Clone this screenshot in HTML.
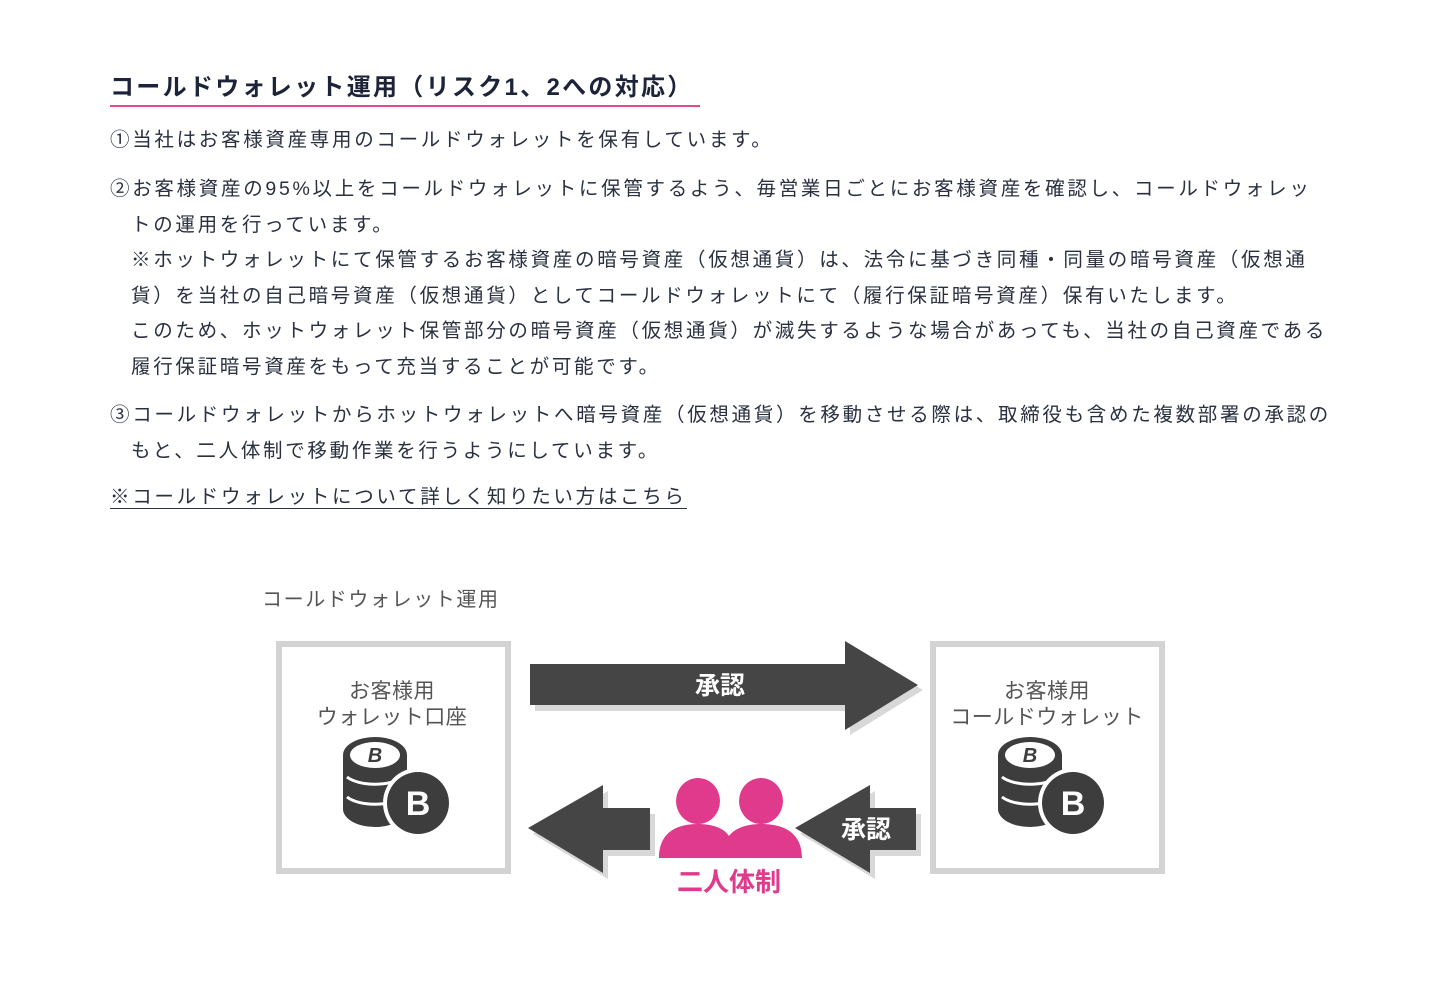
<!DOCTYPE html>
<html><head><meta charset="utf-8"><style>
body{margin:0;width:1439px;height:1006px;background:#fff;position:relative;overflow:hidden;font-family:"Liberation Sans","Noto Sans CJK JP",sans-serif;color:#222a3a}
.h{position:absolute;left:110px;top:67px;font-size:24px;font-weight:bold;letter-spacing:2.3px;color:#1d2338;white-space:nowrap}
.ul{position:absolute;left:110px;top:105px;width:590px;height:2px;background:#e04d8f}
.t{position:absolute;left:110px;font-size:19.5px;letter-spacing:2.7px;white-space:nowrap;line-height:35.5px;color:#2a3040}
.ind{padding-left:21px}
a{color:#2a3040;text-decoration:none;border-bottom:1.5px solid #2a3040}
svg{position:absolute;left:0;top:0}
</style></head><body>
<div class="h">コールドウォレット運用（リスク1、2への対応）</div>
<div class="ul"></div>
<div class="t" style="top:123px">①当社はお客様資産専用のコールドウォレットを保有しています。</div>
<div class="t" style="top:172px">②お客様資産の95%以上をコールドウォレットに保管するよう、毎営業日ごとにお客様資産を確認し、コールドウォレッ<br><span class="ind">トの運用を行っています。</span><br><span class="ind">※ホットウォレットにて保管するお客様資産の暗号資産（仮想通貨）は、法令に基づき同種・同量の暗号資産（仮想通</span><br><span class="ind">貨）を当社の自己暗号資産（仮想通貨）としてコールドウォレットにて（履行保証暗号資産）保有いたします。</span><br><span class="ind">このため、ホットウォレット保管部分の暗号資産（仮想通貨）が滅失するような場合があっても、当社の自己資産である</span><br><span class="ind">履行保証暗号資産をもって充当することが可能です。</span></div>
<div class="t" style="top:398px">③コールドウォレットからホットウォレットへ暗号資産（仮想通貨）を移動させる際は、取締役も含めた複数部署の承認の<br><span class="ind">もと、二人体制で移動作業を行うようにしています。</span></div>
<div class="t" style="top:480px"><a>※コールドウォレットについて詳しく知りたい方はこちら</a></div>
<svg width="1439" height="1006" viewBox="0 0 1439 1006">
<defs>
<g id="coin">
<path d="M-32,0 v54 a32,18 0 0 0 64,0 v-54 z" fill="#3d3d3d"/>
<path d="M-28,22 a32,14 0 0 0 56,0 M-28,42 a32,14 0 0 0 56,0" stroke="#fff" stroke-width="3" fill="none"/>
<ellipse cx="0" cy="0" rx="32" ry="18" fill="#3d3d3d"/>
<ellipse cx="0" cy="0" rx="25" ry="13" fill="#fff"/>
<text x="0" y="7" font-size="20" font-weight="bold" fill="#3d3d3d" text-anchor="middle" font-style="italic">B</text>
<circle cx="43" cy="48" r="35" fill="#fff"/>
<circle cx="43" cy="48" r="31" fill="#3d3d3d"/>
<text x="43" y="60" font-size="34" font-weight="bold" fill="#fff" text-anchor="middle">B</text>
</g>
</defs>
<text x="262" y="606" font-size="20" fill="#555" letter-spacing="1.6">コールドウォレット運用</text>
<rect x="279" y="644" width="229" height="227" fill="none" stroke="#d3d3d3" stroke-width="6"/>
<rect x="933" y="644" width="229" height="227" fill="none" stroke="#d3d3d3" stroke-width="6"/>
<text x="392" y="698" font-size="21" fill="#555" text-anchor="middle" letter-spacing="0.5">お客様用</text>
<text x="392" y="724" font-size="21" fill="#555" text-anchor="middle" letter-spacing="0.5">ウォレット口座</text>
<text x="1047" y="698" font-size="21" fill="#555" text-anchor="middle" letter-spacing="0.5">お客様用</text>
<text x="1047" y="724" font-size="21" fill="#555" text-anchor="middle" letter-spacing="0.5">コールドウォレット</text>
<use href="#coin" x="375" y="755"/>
<use href="#coin" x="1030" y="755"/>
<polygon points="535,670 850,670 850,647 923,690 850,735 850,711 535,711" fill="#d8d8d8"/>
<polygon points="530,664 845,664 845,641 918,685 845,730 845,705 530,705" fill="#454545"/>
<text x="720" y="694" font-size="25" font-weight="bold" fill="#fff" text-anchor="middle">承認</text>
<polygon points="533,834 608,791 608,814 655,814 655,856 608,856 608,879" fill="#d8d8d8"/>
<polygon points="528,828 603,785 603,808 650,808 650,850 603,850 603,873" fill="#454545"/>
<polygon points="800,834 875,791 875,814 921,814 921,856 875,856 875,879" fill="#d8d8d8"/>
<polygon points="795,828 870,785 870,808 916,808 916,850 870,850 870,873" fill="#454545"/>
<text x="866" y="838" font-size="25" font-weight="bold" fill="#fff" text-anchor="middle">承認</text>
<ellipse cx="698" cy="801" rx="22" ry="23" fill="#e03a8c"/>
<ellipse cx="761" cy="801" rx="22" ry="23" fill="#e03a8c"/>
<path d="M659,858 C659,830 680,824 698,824 C712,824 724,828 729,836 C735,828 747,824 761,824 C780,824 802,830 802,858 Z" fill="#e03a8c"/>
<text x="729" y="891" font-size="26" font-weight="bold" fill="#e03a8c" text-anchor="middle">二人体制</text>
</svg>
</body></html>
